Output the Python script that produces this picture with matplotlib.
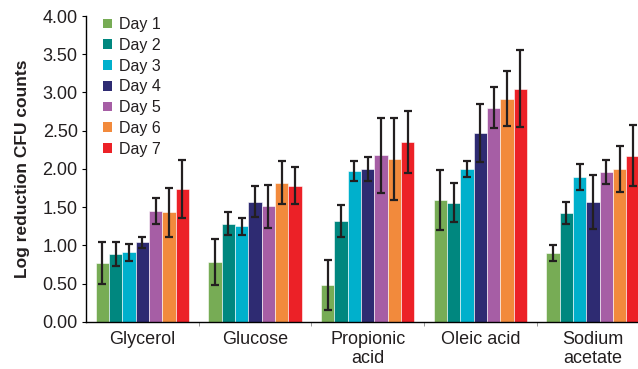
import matplotlib
matplotlib.use("Agg")
import matplotlib.pyplot as plt
import numpy as np

plt.rcParams['font.family'] = ['Liberation Sans', 'DejaVu Sans']

categories = ["Glycerol", "Glucose", "Propionic\nacid", "Oleic acid", "Sodium\nacetate"]
days = ["Day 1", "Day 2", "Day 3", "Day 4", "Day 5", "Day 6", "Day 7"]
colors = ["#77AC55", "#00877F", "#00B0CC", "#2E2B72", "#A65EA5", "#F28A3C", "#EC2127"]

# values[day][category]
day1 = [0.77, 0.78, 0.48, 1.59, 0.90]
day2 = [0.89, 1.28, 1.32, 1.56, 1.42]
day3 = [0.91, 1.25, 1.97, 2.00, 1.89]
day4 = [1.04, 1.57, 2.00, 2.47, 1.57]
day5 = [1.45, 1.51, 2.18, 2.80, 1.96]
day6 = [1.43, 1.82, 2.13, 2.92, 2.00]
day7 = [1.74, 1.78, 2.35, 3.05, 2.17]
values = [day1, day2, day3, day4, day5, day6, day7]

err1 = [0.27, 0.30, 0.33, 0.39, 0.11]
err2 = [0.16, 0.15, 0.21, 0.25, 0.145]
err3 = [0.11, 0.11, 0.13, 0.10, 0.17]
err4 = [0.07, 0.20, 0.16, 0.38, 0.35]
err5 = [0.17, 0.28, 0.49, 0.27, 0.16]
err6 = [0.32, 0.28, 0.54, 0.36, 0.30]
err7 = [0.38, 0.24, 0.41, 0.50, 0.40]
errors = [err1, err2, err3, err4, err5, err6, err7]

fig = plt.figure(figsize=(6.38, 3.69), dpi=100)
ax = fig.add_axes([0.1348, 0.128, 0.8652, 0.8286])

x = np.arange(len(categories))
width = 0.118
for i, (d, vals, errs, c) in enumerate(zip(days, values, errors, colors)):
    pos = x + (i - 3) * width
    ax.bar(pos, vals, width=width, color=c, edgecolor='white', linewidth=0.4, label=d, zorder=2)
    ax.errorbar(pos, vals, yerr=errs, fmt='none', ecolor='#231F20', elinewidth=1.6,
                capsize=3, capthick=1.6, zorder=3)

ax.set_xlim(-0.5, 4.40)
ax.set_ylim(0, 4.0)
ax.set_yticks(np.arange(0, 4.01, 0.5))
ax.set_yticklabels([f"{v:.2f}" for v in np.arange(0, 4.01, 0.5)], fontsize=13, color='#231F20')
ax.set_xticks(x)
ax.set_xticklabels(categories, fontsize=13, va='top', color='#231F20', linespacing=1.1)
ax.set_xticks(x[:-1] + 0.5, minor=True)
ax.tick_params(axis='x', which='major', length=0, pad=7)
ax.tick_params(axis='x', which='minor', length=3, color='#888888')
ax.tick_params(axis='y', length=3, pad=3)
ax.spines['top'].set_visible(False)
ax.spines['right'].set_visible(False)
ax.spines['left'].set_linewidth(1.0)
ax.spines['bottom'].set_linewidth(1.0)
ax.set_ylabel("Log reduction CFU counts", fontsize=12.5, fontweight='bold', labelpad=9,
              color='#231F20')

leg = ax.legend(loc='upper left', bbox_to_anchor=(0.008, 1.038), frameon=False, fontsize=11.5,
                handlelength=0.55, handleheight=0.55, handletextpad=0.45, labelspacing=0.36,
                borderaxespad=0.4)
for h in leg.legend_handles:
    h.set_edgecolor('none')
for t in leg.get_texts():
    t.set_color('#231F20')

fig.savefig("out.png", dpi=100)
